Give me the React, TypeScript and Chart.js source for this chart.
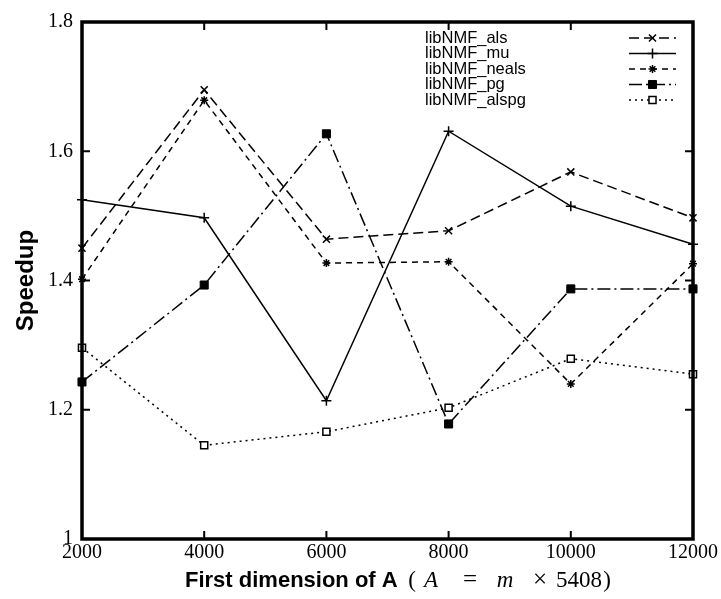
import React, { useEffect, useRef } from "react";
import { Chart, registerables } from "chart.js";
import { drawPoint } from "chart.js/helpers";

Chart.register(...registerables);

const xValues = [2000, 4000, 6000, 8000, 10000, 12000];
const alsValues = [1.45, 1.695, 1.464, 1.477, 1.568, 1.497];
const muValues = [1.525, 1.497, 1.214, 1.631, 1.515, 1.456];
const nealsValues = [1.402, 1.679, 1.427, 1.429, 1.24, 1.426];
const pgValues = [1.243, 1.393, 1.627, 1.178, 1.387, 1.387];
const alspgValues = [1.296, 1.145, 1.166, 1.203, 1.279, 1.255];
const seriesLabels = ["libNMF_als", "libNMF_mu", "libNMF_neals", "libNMF_pg", "libNMF_alspg"];
const yTicks = [1, 1.2, 1.4, 1.6, 1.8];
const xTicks = [2000, 4000, 6000, 8000, 10000, 12000];
const yTitle = "Speedup";
const xTitleBold = "First dimension of A";

const SERIF = '"Liberation Serif", "DejaVu Serif", serif';
const SANS = '"Liberation Sans", "DejaVu Sans", sans-serif';

const framePlugin = {
  id: "frame",
  afterDraw(chart: any) {
    const { ctx, chartArea: a, scales } = chart;
    ctx.save();
    ctx.strokeStyle = "#000";
    ctx.setLineDash([]);
    ctx.lineWidth = 2;
    const seg = (x1: number, y1: number, x2: number, y2: number) => {
      ctx.beginPath();
      ctx.moveTo(x1, y1);
      ctx.lineTo(x2, y2);
      ctx.stroke();
    };
    for (const v of yTicks) {
      const y = scales.y.getPixelForValue(v);
      seg(a.left, y, a.left + 8, y);
      seg(a.right - 8, y, a.right, y);
    }
    for (const v of xTicks) {
      const x = scales.x.getPixelForValue(v);
      seg(x, a.bottom, x, a.bottom - 8);
      seg(x, a.top, x, a.top + 8);
    }
    ctx.lineWidth = 3.5;
    ctx.strokeRect(a.left, a.top, a.right - a.left, a.bottom - a.top);

    // legend
    const rowH = 15.5;
    const textX = a.left + 343;
    const sampleL = a.right - 64;
    const sampleR = a.right - 17;
    chart.data.datasets.forEach((ds: any, i: number) => {
      const y = a.top + 16 + i * rowH;
      ctx.fillStyle = "#000";
      ctx.font = `16.5px ${SANS}`;
      ctx.textAlign = "left";
      ctx.textBaseline = "middle";
      ctx.fillText(ds.label, textX, y);
      ctx.lineWidth = ds.borderWidth;
      ctx.setLineDash(ds.borderDash || []);
      seg(sampleL, y, sampleR, y);
      ctx.setLineDash([]);
      ctx.fillStyle = ds.pointBackgroundColor;
      ctx.strokeStyle = "#000";
      ctx.lineWidth = ds.pointBorderWidth;
      drawPoint(ctx, { pointStyle: ds.pointStyle, radius: ds.pointRadius, rotation: 0, borderWidth: ds.pointBorderWidth } as any, (sampleL + sampleR) / 2, y);
    });

    // x title: [text, font, offset from start of title, align]
    const parts: [string, string, number, string][] = [
      [xTitleBold, `bold 22px ${SANS}`, 0, "left"],
      ["(", `23px ${SERIF}`, 227, "center"],
      ["A", `italic 23px ${SERIF}`, 246, "center"],
      ["=", `25px ${SERIF}`, 285, "center"],
      ["m", `italic 23px ${SERIF}`, 320, "center"],
      ["\u00d7", `25px ${SERIF}`, 355, "center"],
      ["5408", `23px ${SERIF}`, 394, "center"],
      [")", `23px ${SERIF}`, 422, "center"],
    ];
    const totalW = 427;
    const start = (a.left + a.right) / 2 - totalW / 2 + 11;
    ctx.fillStyle = "#000";
    ctx.textBaseline = "alphabetic";
    for (const [t, f, off, al] of parts) {
      ctx.font = f;
      ctx.textAlign = al as CanvasTextAlign;
      ctx.fillText(t, start + off, 587);
    }
    ctx.restore();
  },
};

export default function App() {
  const ref = useRef<HTMLCanvasElement>(null);
  useEffect(() => {
    if (!ref.current) return;
    const mk = (label: string, data: number[], dash: number[], style: string, radius: number, fill: string, pbw: number) => ({
      label,
      data: xValues.map((x, i) => ({ x, y: data[i] })),
      borderColor: "#000",
      borderWidth: 1.5,
      borderDash: dash,
      pointStyle: style,
      pointRadius: radius,
      pointHoverRadius: radius,
      pointBackgroundColor: fill,
      pointBorderColor: "#000",
      pointBorderWidth: pbw,
      tension: 0,
      fill: false,
      clip: false,
    });
    const chart = new Chart(ref.current, {
      type: "line",
      data: {
        datasets: [
          mk(seriesLabels[0], alsValues, [10, 5], "crossRot", 5, "#000", 1.5),
          mk(seriesLabels[1], muValues, [], "cross", 5, "#000", 1.5),
          mk(seriesLabels[2], nealsValues, [6, 5], "star", 4, "#000", 1.5),
          mk(seriesLabels[3], pgValues, [13, 4, 2, 4], "rect", 5.7, "#000", 1),
          mk(seriesLabels[4], alspgValues, [2, 4], "rect", 5, "#fff", 1.5),
        ] as any,
      },
      options: {
        animation: false,
        responsive: false,
        devicePixelRatio: 1,
        events: [],
        layout: { padding: { left: 0, right: 28, top: 22, bottom: 0 } },
        plugins: { legend: { display: false }, tooltip: { enabled: false } },
        scales: {
          x: {
            type: "linear",
            min: 2000,
            max: 12000,
            grid: { display: false, drawTicks: false },
            border: { display: false },
            ticks: {
              stepSize: 2000,
              padding: 2,
              color: "#000",
              maxRotation: 0,
              font: { family: SERIF, size: 20 },
              callback: (v: any) => String(v),
            },
            afterFit: (s: any) => {
              s.height = 599 - 539;
              s.paddingLeft = 0;
              s.paddingRight = 0;
            },
          },
          y: {
            type: "linear",
            min: 1,
            max: 1.8,
            grid: { display: false, drawTicks: false },
            border: { display: false },
            title: {
              display: true,
              text: yTitle,
              color: "#000",
              font: { family: SANS, size: 24, weight: "bold" },
              padding: { top: 12, bottom: 0 },
            },
            ticks: {
              stepSize: 0.2,
              padding: 9,
              color: "#000",
              font: { family: SERIF, size: 20 },
              callback: (v: any) => String(+Number(v).toFixed(1)),
            },
            afterFit: (s: any) => {
              s.width = 82;
              s.paddingTop = 0;
              s.paddingBottom = 0;
            },
          },
        },
      } as any,
      plugins: [framePlugin],
    });
    return () => chart.destroy();
  }, []);
  return (
    <div style={{ position: "fixed", left: 0, top: 0, width: 721, height: 599, background: "#fff" }}>
      <canvas ref={ref} width={721} height={599} style={{ width: 721, height: 599 }} />
    </div>
  );
}
